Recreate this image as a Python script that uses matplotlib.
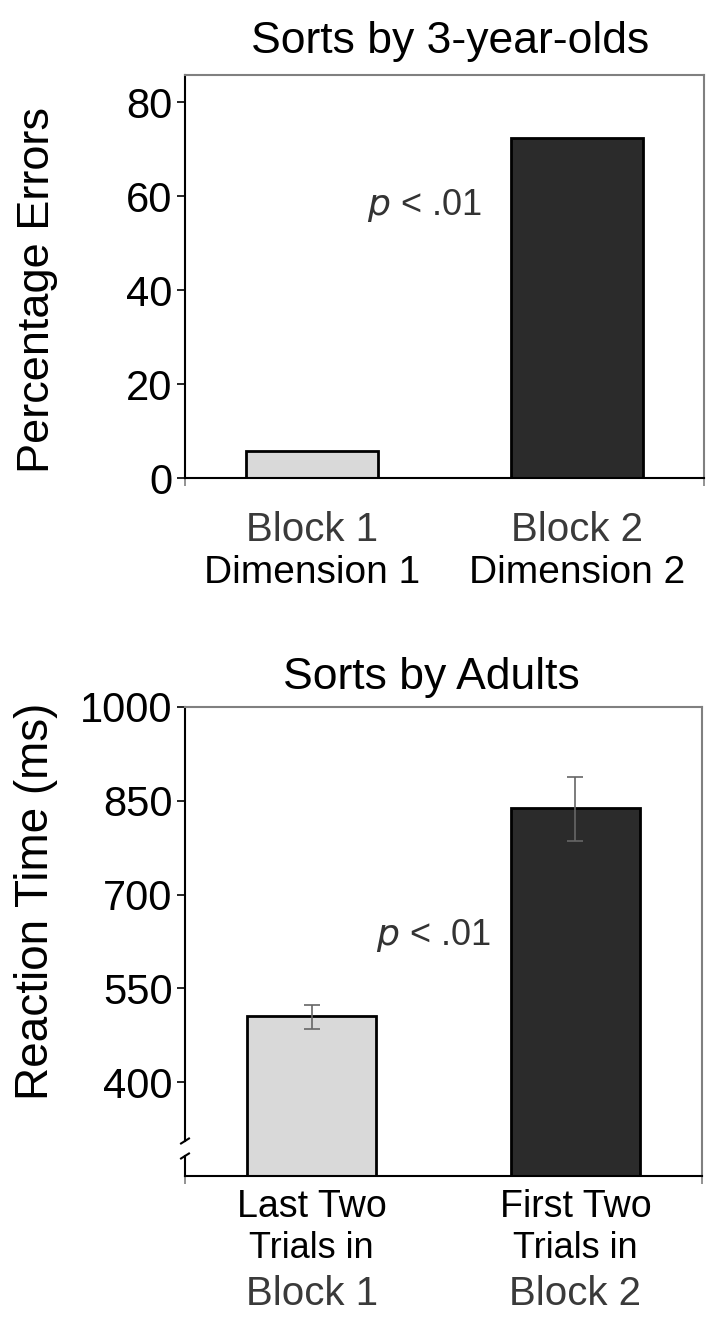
import numpy as np
import matplotlib
matplotlib.use('Agg')
import matplotlib.pyplot as plt

plt.rcParams['font.family'] = ['Liberation Sans', 'DejaVu Sans']

# top panel: 3-year-olds
kid_vals = [5.7, 72.4]
kid_ticks = [0, 20, 40, 60, 80]
kid_lines1 = ['Block 1', 'Block 2']
kid_lines2 = ['Dimension 1', 'Dimension 2']

# bottom panel: adults
adult_vals = [506, 839]
adult_err_lo = [21, 54]
adult_err_hi = [18, 49]
adult_ticks = [400, 550, 700, 850, 1000]
adult_lines1 = ['Last Two', 'First Two']
adult_lines2 = ['Trials in', 'Trials in']
adult_lines3 = ['Block 1', 'Block 2']

bar_colors = ['#d9d9d9', '#2b2b2b']
W, H = 718, 1324

fig = plt.figure(figsize=(W / 100, H / 100), dpi=100)


def px_axes(left, top, right, bottom):
    return fig.add_axes([left / W, 1 - bottom / H, (right - left) / W, (bottom - top) / H])


def style(ax):
    for s in ['top', 'right']:
        ax.spines[s].set_color('#808080')
        ax.spines[s].set_linewidth(1.5)
    for s in ['left', 'bottom']:
        ax.spines[s].set_color('black')
        ax.spines[s].set_linewidth(1.5)
    ax.tick_params(axis='y', direction='out', length=6, width=1.2, labelsize=30, pad=3)
    ax.tick_params(axis='x', which='major', length=0)
    ax.tick_params(axis='x', which='minor', length=6, width=1.2, color='#808080')
    ax.set_xlim(-0.48, 1.48)
    ax.set_xticks([-0.48, 1.48], minor=True)
    ax.set_xticks([0, 1])
    ax.set_xticklabels(['', ''])


x = np.arange(2)

# ---- top
top1, bot1 = 75, 478
ax1 = px_axes(185, top1, 704, bot1)
ax1.bar(x, kid_vals, width=0.5, color=bar_colors, edgecolor='black', linewidth=2)
ax1.set_ylim(0, 85.8)
ax1.set_yticks(kid_ticks)
style(ax1)
ax1.set_ylabel('Percentage Errors', fontsize=32.5)
ax1.yaxis.set_label_coords(-0.245, (bot1 - 290) / (bot1 - top1))
xt = ax1.get_xaxis_transform()
h1 = bot1 - top1
for i in x:
    ax1.text(i, -52 / h1, kid_lines1[i], transform=xt, ha='center', va='center',
             fontsize=29, color='#3a3a3a')
    ax1.text(i, -95 / h1, kid_lines2[i], transform=xt, ha='center', va='center',
             fontsize=28, color='black')
ax1.text(0.461, (bot1 - 205) / h1, r'$\it{p}$ < .01', transform=ax1.transAxes,
         ha='center', va='center', fontsize=26, color='#333333')
fig.text(450 / W, 1 - 42 / H, 'Sorts by 3-year-olds', ha='center', va='center', fontsize=32)

# ---- bottom
top2, bot2 = 707, 1176
ax2 = px_axes(185, top2, 702, bot2)
ax2.bar(x, adult_vals, width=0.49, color=bar_colors, edgecolor='black', linewidth=2,
        yerr=[adult_err_lo, adult_err_hi], ecolor='#666666',
        error_kw=dict(elinewidth=1.2, capsize=6, capthick=1.2))
ax2.set_ylim(250, 1000)
ax2.set_yticks(adult_ticks)
style(ax2)
# broken left axis
ax2.spines['left'].set_bounds(306, 1000)
ax2.plot([-0.48, -0.48], [250, 282], color='black', lw=1.5, clip_on=False)
ax2.plot([-0.495, -0.465], [302, 310], color='black', lw=1.5, clip_on=False)
ax2.plot([-0.495, -0.465], [278, 286], color='black', lw=1.5, clip_on=False)
ax2.set_ylabel('Reaction Time (ms)', fontsize=33)
h2 = bot2 - top2
ax2.yaxis.set_label_coords(-0.245, (bot2 - 901) / h2)
xt = ax2.get_xaxis_transform()
for i in x:
    ax2.text(i, -31 / h2, adult_lines1[i], transform=xt, ha='center', va='center',
             fontsize=27, color='black')
    ax2.text(i, -72 / h2, adult_lines2[i], transform=xt, ha='center', va='center',
             fontsize=26, color='black')
    ax2.text(i, -118 / h2, adult_lines3[i], transform=xt, ha='center', va='center',
             fontsize=29, color='#3a3a3a')
ax2.text(0.48, (bot2 - 935) / h2, r'$\it{p}$ < .01', transform=ax2.transAxes,
         ha='center', va='center', fontsize=26, color='#333333')
fig.text(431 / W, 1 - 677 / H, 'Sorts by Adults', ha='center', va='center', fontsize=32)

fig.savefig('out.png', dpi=100)
